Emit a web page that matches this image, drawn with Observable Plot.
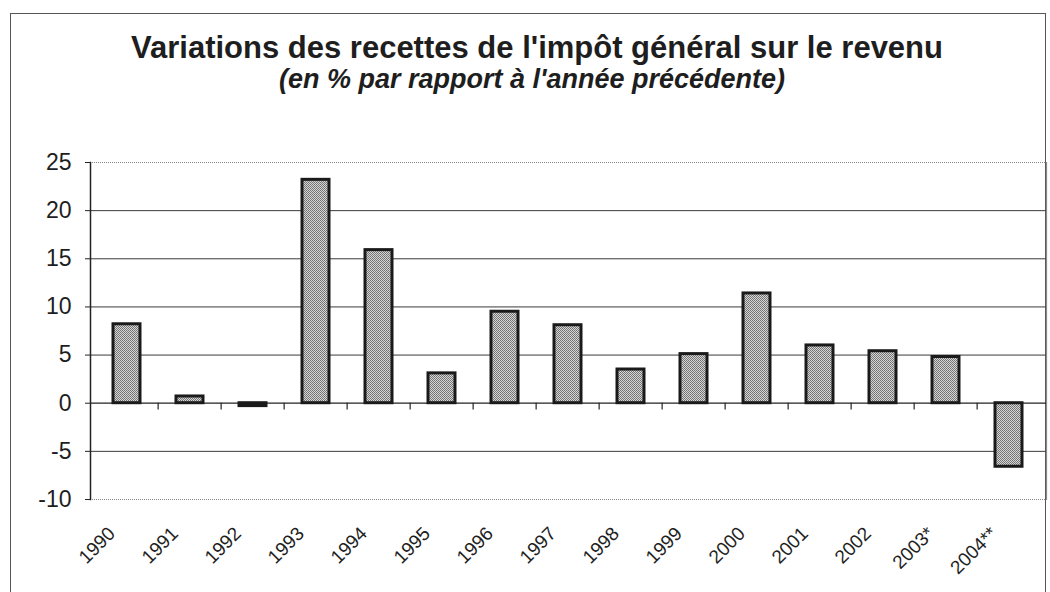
<!DOCTYPE html>
<html>
<head>
<meta charset="utf-8">
<script src="https://cdn.jsdelivr.net/npm/d3@7"></script>
<script src="https://cdn.jsdelivr.net/npm/@observablehq/plot@0.6"></script>
<style>
  html, body { margin: 0; padding: 0; background: #fff; }
  #wrap { position: relative; width: 1050px; height: 592px; overflow: hidden; background: #fff; font-family: "Liberation Sans", Arial, sans-serif; color: #1e1e1e; }
  #frame { position: absolute; left: 10px; top: 13px; width: 1036px; height: 700px; border: 1px solid #555; box-sizing: border-box; }
  .title { position: absolute; left: 10px; width: 1036px; text-align: center; font-weight: bold; white-space: nowrap; box-sizing: border-box; }
  #t1 { top: 32px; font-size: 31px; line-height: 31px; padding-left: 18px; }
  #t2 { top: 66px; font-size: 27px; line-height: 27px; font-style: italic; padding-left: 8px; }
  #chart { position: absolute; left: 0; top: 130px; }
</style>
</head>
<body>
<div id="wrap">
  <div id="frame"></div>
  <div class="title" id="t1">Variations des recettes de l'impôt général sur le revenu</div>
  <div class="title" id="t2">(en % par rapport à l'année précédente)</div>
  <div id="chart"></div>
</div>
<script>
const years = ["1990","1991","1992","1993","1994","1995","1996","1997","1998","1999","2000","2001","2002","2003*","2004**"];
const values = [8.2, 0.7, -0.3, 23.2, 15.9, 3.1, 9.5, 8.1, 3.5, 5.1, 11.4, 6.0, 5.4, 4.8, -6.6];
const yTicks = [-10, -5, 0, 5, 10, 15, 20, 25];
const gridValues = [-5, 5, 10, 15, 20];

const data = years.map((y, i) => ({year: y, value: values[i]}));

const W = 1050, H = 462, ML = 90, MR = 4, MT = 32, MB = 93;
const step = (W - ML - MR) / years.length;

const svg = Plot.plot({
  width: W, height: H,
  marginTop: MT, marginBottom: MB, marginLeft: ML, marginRight: MR,
  style: {fontFamily: "'Liberation Sans', Arial, sans-serif", color: "#1e1e1e", background: "transparent", overflow: "visible"},
  x: {domain: years, paddingInner: 0.57, paddingOuter: 0.285, axis: null},
  y: {domain: [-10, 25], axis: null},
  marks: [
    Plot.ruleY(gridValues, {stroke: "#3a3a3a", strokeWidth: 1}),
    Plot.ruleY([25, -10], {stroke: "#888", strokeWidth: 1.2, strokeDasharray: "1,1"}),
    Plot.frame({anchor: "right", stroke: "#888", strokeWidth: 1.2, strokeDasharray: "1,1"}),
    Plot.ruleY([0], {stroke: "#222", strokeWidth: 1.2}),
    Plot.ruleX(years.slice(1), {x: d => d, y1: 0, y2: -0.7, dx: -step / 2, stroke: "#222", strokeWidth: 1.2}),
    Plot.barY(data, {x: "year", y: "value", fill: "#a4a4a4", stroke: "#1a1a1a", strokeWidth: 3}),
    Plot.frame({anchor: "left", stroke: "#222", strokeWidth: 1.5}),
    Plot.axisY({ticks: yTicks, tickFormat: d => String(d), label: null, tickSize: 5, tickPadding: 14, fontSize: 23, stroke: "#222"}),
    Plot.text(years, {x: d => d, y: -10, text: d => d, rotate: -45, textAnchor: "end", dx: -15, dy: 31, fontSize: 19,
      fontFamily: "'Liberation Sans Narrow', 'Liberation Sans', Arial, sans-serif", fill: "#1e1e1e"})
  ]
});

// fine stippled fill for the bars
const ns = "http://www.w3.org/2000/svg";
const defs = document.createElementNS(ns, "defs");
defs.innerHTML = '<pattern id="stip" width="2" height="2" patternUnits="userSpaceOnUse">' +
  '<rect width="2" height="2" fill="#d6d6d6"/>' +
  '<rect x="0" y="0" width="1" height="1" fill="#707070"/>' +
  '<rect x="1" y="1" width="1" height="1" fill="#7a7a7a"/></pattern>';
svg.insertBefore(defs, svg.firstChild);
d3.select(svg).selectAll("g[aria-label='bar']").attr("fill", "url(#stip)");

document.getElementById("chart").appendChild(svg);
</script>
</body>
</html>
